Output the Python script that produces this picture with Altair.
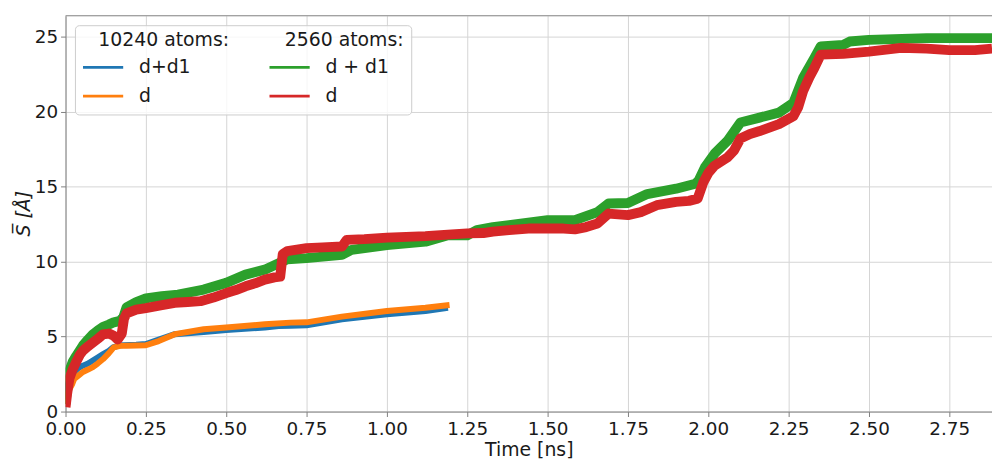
import altair as alt
import pandas as pd

# ---------------- data ----------------
# 10240 atoms, d+d1 (blue)
t_a1 = [0.000, 0.004, 0.010, 0.020, 0.027, 0.040, 0.054, 0.070, 0.085, 0.100, 0.117, 0.135,
        0.148, 0.165, 0.180, 0.220, 0.250, 0.290, 0.340, 0.430, 0.500, 0.620, 0.663, 0.700,
        0.750, 0.860, 1.000, 1.120, 1.190]
s_a1 = [0.8, 1.6, 2.0, 2.4, 2.64, 2.9, 3.06, 3.2, 3.4, 3.6, 3.83, 4.05,
        4.28, 4.4, 4.43, 4.45, 4.5, 4.8, 5.16, 5.31, 5.44, 5.6, 5.7, 5.72,
        5.75, 6.15, 6.48, 6.7, 6.92]

# 10240 atoms, d (orange)
t_a2 = [0.000, 0.004, 0.010, 0.020, 0.027, 0.040, 0.054, 0.070, 0.085, 0.100, 0.117, 0.135,
        0.150, 0.170, 0.190, 0.250, 0.290, 0.340, 0.430, 0.500, 0.620, 0.700, 0.750,
        0.860, 1.000, 1.120, 1.195]
s_a2 = [0.5, 1.0, 1.4, 1.8, 2.18, 2.4, 2.64, 2.8, 2.96, 3.2, 3.5, 3.9,
        4.28, 4.38, 4.39, 4.42, 4.7, 5.16, 5.49, 5.6, 5.82, 5.93, 5.95,
        6.33, 6.7, 6.92, 7.1]

# 2560 atoms, d + d1 (green)
t_b1 = [0.000, 0.005, 0.012, 0.022, 0.033, 0.045, 0.054, 0.070, 0.085, 0.100, 0.117, 0.135,
        0.150, 0.170, 0.180, 0.190, 0.220, 0.250, 0.300, 0.350, 0.430, 0.500, 0.560, 0.620,
        0.665, 0.690, 0.750, 0.860, 0.890, 1.000, 1.120, 1.190, 1.250, 1.280, 1.330, 1.380,
        1.500, 1.585, 1.655, 1.690, 1.750, 1.810, 1.900, 1.960, 1.970, 1.990, 2.020, 2.060,
        2.100, 2.160, 2.220, 2.265, 2.295, 2.330, 2.350, 2.420, 2.440, 2.500, 2.680, 2.883]
s_b1 = [0.5, 1.8, 2.7, 3.3, 3.7, 4.1, 4.4, 4.8, 5.15, 5.4, 5.65, 5.8,
        5.95, 6.05, 6.3, 6.95, 7.3, 7.55, 7.7, 7.8, 8.13, 8.58, 9.13, 9.46,
        9.9, 10.16, 10.23, 10.45, 10.78, 11.1, 11.33, 11.75, 11.75, 12.1, 12.3, 12.43,
        12.76, 12.76, 13.3, 13.87, 13.91, 14.5, 14.86, 15.19, 15.4, 16.3, 17.2, 18.05,
        19.27, 19.6, 19.93, 20.59, 22.24, 23.57, 24.34, 24.45, 24.67, 24.78, 24.9, 24.9]

# 2560 atoms, d (red)
t_b2 = [0.000, 0.005, 0.012, 0.022, 0.033, 0.045, 0.054, 0.070, 0.085, 0.100, 0.117, 0.135,
        0.150, 0.162, 0.175, 0.182, 0.190, 0.220, 0.250, 0.300, 0.340, 0.380, 0.420, 0.460,
        0.500, 0.530, 0.560, 0.590, 0.620, 0.650, 0.668, 0.676, 0.690, 0.750, 0.800, 0.860,
        0.875, 0.930, 1.000, 1.060, 1.120, 1.190, 1.250, 1.300, 1.330, 1.380, 1.440, 1.500,
        1.550, 1.585, 1.620, 1.655, 1.690, 1.750, 1.790, 1.840, 1.900, 1.940, 1.967, 1.985,
        2.000, 2.020, 2.060, 2.080, 2.100, 2.130, 2.160, 2.220, 2.265, 2.280, 2.295, 2.315,
        2.330, 2.350, 2.420, 2.500, 2.600, 2.680, 2.750, 2.830, 2.883]
s_b2 = [0.3, 1.2, 2.2, 2.8, 3.3, 3.8, 4.05, 4.35, 4.6, 4.85, 5.15, 5.2,
        5.05, 4.8, 5.2, 6.2, 6.55, 6.8, 6.9, 7.1, 7.25, 7.3, 7.36, 7.6,
        7.9, 8.1, 8.35, 8.55, 8.8, 8.95, 9.0, 10.5, 10.7, 10.9, 10.95, 11.0,
        11.45, 11.5, 11.6, 11.65, 11.7, 11.8, 11.88, 11.9, 12.0, 12.1, 12.2, 12.2,
        12.2, 12.15, 12.3, 12.54, 13.2, 13.1, 13.3, 13.76, 13.98, 14.05, 14.2, 15.3,
        15.9, 16.4, 16.95, 17.4, 18.2, 18.5, 18.7, 19.16, 19.7, 20.3, 21.36, 22.3,
        22.9, 23.8, 23.85, 24.0, 24.25, 24.2, 24.1, 24.1, 24.2]

keys_a = ["10240: d+d1", "10240: d"]
keys_b = ["2560: d + d1", "2560: d"]
colors_a = ["#1f77b4", "#ff7f0e"]
colors_b = ["#2ca02c", "#d62728"]

x_ticks = [0, 0.25, 0.5, 0.75, 1.0, 1.25, 1.5, 1.75, 2.0, 2.25, 2.5, 2.75]
y_ticks = [0, 5, 10, 15, 20, 25]
x_max = 2.883
y_max = 26.39

W, H = 934, 399
FONT = "DejaVu Sans"
FS = 19
TFS = 18.5
TXT = "#1a1a1a"
SPINE = "#7f7f7f"
GRID = "#d4d4d4"


def frame(t, s, key):
    return pd.DataFrame({"t": t, "s": s, "series": key})


x_enc = alt.X("t:Q", scale=alt.Scale(domain=[0, x_max], nice=False, zero=False),
              axis=alt.Axis(values=x_ticks, format=".2f", title="Time [ns]",
                            titleY=44, titleBaseline="alphabetic"))
y_enc = alt.Y("s:Q", scale=alt.Scale(domain=[0, y_max], nice=False, zero=False),
              axis=alt.Axis(values=y_ticks, format="d", title="S\u0305 [Å]",
                            titleX=-36, titleY=199, titleAlign="center",
                            titleBaseline="alphabetic", titleAngle=270,
                            titleFontStyle="italic"))


def legend(title, lx):
    return alt.Legend(
        title=title, orient="none", legendX=lx, legendY=15, padding=0,
        titleFontSize=FS, titleFont=FONT, titleFontWeight="normal", titleColor=TXT,
        titlePadding=3, titleAnchor="start",
        labelFontSize=FS, labelFont=FONT, labelColor=TXT, labelOffset=11,
        labelExpr="trim(split(datum.label, ':')[1])",
        symbolType="M-2.25,0H0.75", symbolSize=729, symbolStrokeWidth=2.8,
        rowPadding=4,
    )


def series_layer(t, s, key, keys, colors, title, lx, sw):
    return alt.Chart(frame(t, s, key)).mark_line(
        strokeWidth=sw, strokeJoin="round", clip=True
    ).encode(
        x=x_enc, y=y_enc,
        color=alt.Color("series:N", scale=alt.Scale(domain=keys, range=colors),
                        legend=legend(title, lx)),
    )


blue = series_layer(t_a1, s_a1, keys_a[0], keys_a, colors_a, "10240 atoms:", 33, 6)
orange = series_layer(t_a2, s_a2, keys_a[1], keys_a, colors_a, "10240 atoms:", 33, 6)
green = series_layer(t_b1, s_b1, keys_b[0], keys_b, colors_b, "2560 atoms:", 221, 10)
red = series_layer(t_b2, s_b2, keys_b[1], keys_b, colors_b, "2560 atoms:", 221, 10)

group_a = alt.layer(blue, orange)
group_b = alt.layer(green, red)

legend_box = alt.Chart(alt.Data(values=[{}])).mark_rect(
    fill="white", fillOpacity=0.8, stroke="#cccccc", strokeWidth=1, cornerRadius=4
).encode(x=alt.value(10), x2=alt.value(349), y=alt.value(10), y2=alt.value(100))

top_spine = alt.Chart(alt.Data(values=[{}])).mark_rule(color=SPINE, strokeWidth=1).encode(
    x=alt.value(0), x2=alt.value(W), y=alt.value(0)
)

chart = alt.layer(group_a, group_b, legend_box, top_spine).resolve_scale(
    color="independent"
).properties(
    width=W, height=H,
    autosize=alt.AutoSizeParams(type="none"),
    padding={"left": 58, "top": 6, "right": 0, "bottom": 46},
).configure_view(
    stroke=None
).configure_axis(
    labelFont=FONT, labelFontSize=TFS, labelColor=TXT,
    titleFont=FONT, titleFontSize=FS, titleColor=TXT, titleFontWeight="normal",
    domainColor=SPINE, domainWidth=1, tickColor=SPINE, tickSize=5, tickWidth=1,
    labelPadding=3, grid=True, gridColor=GRID, gridWidth=1,
    labelFlush=False, labelOverlap=False,
)

chart.save("out.html", embed_options={"renderer": "svg", "actions": False})
